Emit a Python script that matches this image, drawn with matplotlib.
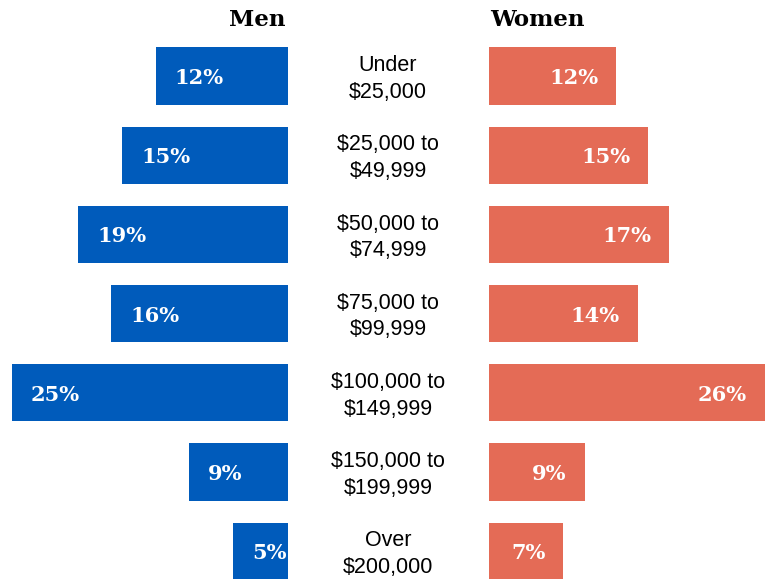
import matplotlib.pyplot as plt
import matplotlib.transforms as mt

# Dati
categorie = ["Under\n$25,000", "$25,000 to\n$49,999", "$50,000 to\n$74,999",
             "$75,000 to\n$99,999", "$100,000 to\n$149,999", "$150,000 to\n$199,999",
             "Over\n$200,000"]
uomini = [12, 15, 19, 16, 25, 9, 5]
donne = [12, 15, 17, 14, 26, 9, 7]

blu = "#005bbb"
corallo = "#e46b56"

W, H = 768, 579
fig = plt.figure(figsize=(W / 100, H / 100), dpi=100)

# pixel -> frazione della figura
def fx(px):
    return px / W

# posizione dei centri delle righe (in pixel dall'alto)
y0, passo = 76, 79.2
ylim = ((H - y0) / passo, -y0 / passo)
pos = list(range(len(categorie)))

ax_m = fig.add_axes([fx(12), 0, fx(276), 1])
ax_w = fig.add_axes([fx(489), 0, fx(276), 1])

ax_m.barh(pos, uomini, height=0.72, color=blu)
ax_m.set_xlim(max(uomini), 0)
ax_w.barh(pos, donne, height=0.72, color=corallo)
ax_w.set_xlim(0, max(donne))

for ax in (ax_m, ax_w):
    ax.set_ylim(*ylim)
    ax.axis("off")

# etichette dentro le barre
font_num = dict(family="DejaVu Serif", weight="bold", size=15, color="white")
tr_m = ax_m.transData + mt.ScaledTranslation(0.19, -0.02, fig.dpi_scale_trans)
tr_w = ax_w.transData + mt.ScaledTranslation(-0.18, -0.02, fig.dpi_scale_trans)
for i in pos:
    ax_m.text(uomini[i], i, f"{uomini[i]}%", ha="left", va="center",
              transform=tr_m, **font_num)
    ax_w.text(donne[i], i, f"{donne[i]}%", ha="right", va="center",
              transform=tr_w, **font_num)

# categorie al centro
for i, c in enumerate(categorie):
    fig.text(fx(388), 1 - (y0 + passo * i + 3) / H, c, ha="center", va="center",
             family="Liberation Sans", size=15.5, linespacing=1.35)

# titoli
fig.text(fx(257), 1 - 20 / H, "Men", ha="center", va="center",
         family="DejaVu Serif", weight="bold", size=16.5)
fig.text(fx(537), 1 - 20 / H, "Women", ha="center", va="center",
         family="DejaVu Serif", weight="bold", size=16.5)

fig.savefig("out.png", dpi=100)
